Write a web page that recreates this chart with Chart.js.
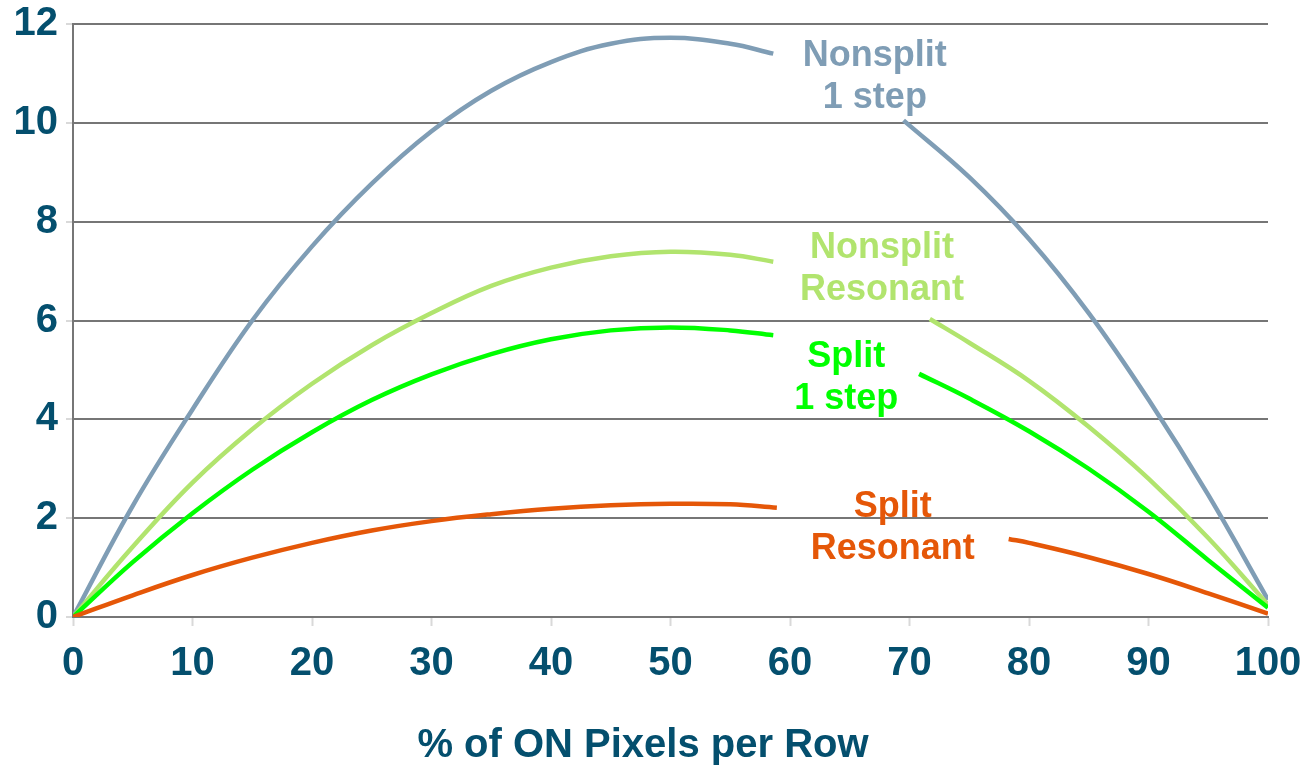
<!DOCTYPE html>
<html>
<head>
<meta charset="utf-8">
<script src="https://cdn.jsdelivr.net/npm/chart.js@4.4.1/dist/chart.umd.min.js"></script>
<style>
  html, body { margin: 0; padding: 0; background: #ffffff; }
  #wrap { width: 1310px; height: 766px; position: relative; }
</style>
</head>
<body>
<div id="wrap"><canvas id="c" width="1310" height="766"></canvas></div>
<script>
// ---- Data ----
const xTickValues = [0, 10, 20, 30, 40, 50, 60, 70, 80, 90, 100];
const yTickValues = [0, 2, 4, 6, 8, 10, 12];
const xAxisTitle = "% of ON Pixels per Row";

const nonsplit1StepX = [0, 5, 10, 15, 20, 25, 30, 35, 40, 45, 50, 55, 58.6, 64, 69.5, 75, 80, 85, 90, 95, 100];
const nonsplit1StepY = [0, 2.25, 4.2, 6.0, 7.5, 8.77, 9.83, 10.65, 11.23, 11.6, 11.72, 11.6, 11.4, null, 10.05, 8.9, 7.65, 6.15, 4.4, 2.47, 0.35];

const nonsplitResX = [0, 5, 10, 15, 20, 25, 30, 35, 40, 45, 50, 55, 58.6, 65, 71.7, 75, 80, 85, 90, 95, 100];
const nonsplitResY = [0, 1.42, 2.72, 3.8, 4.72, 5.5, 6.15, 6.7, 7.07, 7.3, 7.39, 7.33, 7.19, null, 6.03, 5.55, 4.78, 3.85, 2.8, 1.6, 0.25];

const split1StepX = [0, 5, 10, 15, 20, 25, 30, 35, 40, 45, 50, 55, 58.6, 65, 70.8, 75, 80, 85, 90, 95, 100];
const split1StepY = [0, 1.11, 2.1, 2.98, 3.74, 4.39, 4.91, 5.32, 5.62, 5.8, 5.86, 5.8, 5.7, null, 4.92, 4.42, 3.76, 3.0, 2.13, 1.15, 0.19];

const splitResX = [0, 5, 10, 15, 20, 25, 30, 35, 40, 45, 50, 55, 58.9, 68, 78.3, 80, 85, 90, 95, 100];
const splitResY = [0, 0.44, 0.85, 1.2, 1.5, 1.75, 1.94, 2.08, 2.19, 2.26, 2.29, 2.28, 2.21, null, 1.58, 1.5, 1.21, 0.87, 0.48, 0.07];

const seriesNames = [["Nonsplit", "1 step"], ["Nonsplit", "Resonant"], ["Split", "1 step"], ["Split", "Resonant"]];

// ---- Styles ----
const COLORS = ["#7f9db5", "#b1e46e", "#00ff00", "#e55708"];
const TEXT_DARK = "#044f6e";
const GRID = "#767676";
const TICKMARK = "#d9d9d9";
const FONT = "'Liberation Sans', Arial, sans-serif";

// label anchor (data units: x center, y of first baseline)
const labelAnchors = [
  { x: 67.1, y: 11.15 },
  { x: 67.7, y: 7.27 },
  { x: 64.7, y: 5.05 },
  { x: 68.6, y: 2.03 }
];

function zip(xs, ys) { return xs.map((x, i) => ({ x: x, y: ys[i] })); }

const seriesData = [
  zip(nonsplit1StepX, nonsplit1StepY),
  zip(nonsplitResX, nonsplitResY),
  zip(split1StepX, split1StepY),
  zip(splitResX, splitResY)
];

const datasets = seriesData.map((d, i) => ({
  label: seriesNames[i].join(" "),
  data: d,
  borderColor: COLORS[i],
  backgroundColor: COLORS[i],
  borderWidth: 4.5,
  pointRadius: 0,
  pointHoverRadius: 0,
  fill: false,
  spanGaps: false,
  tension: 0.4,
  borderCapStyle: "butt",
  order: 3 - i
}));

const labelPlugin = {
  id: "seriesLabels",
  afterDatasetsDraw(chart) {
    const ctx = chart.ctx;
    const xs = chart.scales.x, ys = chart.scales.y;
    ctx.save();
    ctx.font = "bold 36px " + FONT;
    ctx.textAlign = "center";
    ctx.textBaseline = "alphabetic";
    labelAnchors.forEach((a, i) => {
      const px = xs.getPixelForValue(a.x);
      const py = ys.getPixelForValue(a.y);
      ctx.fillStyle = COLORS[i];
      seriesNames[i].forEach((line, j) => {
        ctx.fillText(line, px, py + j * 42);
      });
    });
    ctx.restore();
  },
  afterDraw(chart) {
    const ctx = chart.ctx;
    ctx.save();
    ctx.font = "bold 40px " + FONT;
    ctx.fillStyle = TEXT_DARK;
    ctx.textAlign = "center";
    ctx.textBaseline = "alphabetic";
    ctx.fillText(xAxisTitle, 643, 757);
    ctx.restore();
  }
};

new Chart(document.getElementById("c"), {
  type: "line",
  data: { datasets: datasets },
  options: {
    responsive: false,
    animation: false,
    events: [],
    layout: { padding: { top: 24, right: 42, bottom: 0, left: 0 } },
    plugins: { legend: { display: false }, tooltip: { enabled: false }, title: { display: false } },
    scales: {
      x: {
        type: "linear",
        min: 0, max: 100,
        afterBuildTicks(scale) { scale.ticks = xTickValues.map(v => ({ value: v })); },
        afterFit(scale) { scale.height = 149; scale.paddingRight = 0; scale.paddingLeft = 0; },
        grid: { display: true, drawOnChartArea: false, drawTicks: true, tickLength: 9, tickColor: TICKMARK, tickWidth: 2 },
        border: { display: true, color: GRID, width: 2 },
        ticks: {
          color: TEXT_DARK,
          font: { family: FONT, size: 40, weight: "bold", lineHeight: 1 },
          padding: 18,
          maxRotation: 0,
          autoSkip: false
        }
      },
      y: {
        type: "linear",
        min: 0, max: 12,
        afterBuildTicks(scale) { scale.ticks = yTickValues.map(v => ({ value: v })); },
        afterFit(scale) { scale.width = 73; scale.paddingTop = 0; scale.paddingBottom = 0; },
        grid: { display: true, color: GRID, lineWidth: 2, drawTicks: true, tickLength: 7, tickColor: TICKMARK, tickWidth: 2 },
        border: { display: true, color: GRID, width: 2 },
        ticks: {
          color: TEXT_DARK,
          font: { family: FONT, size: 40, weight: "bold", lineHeight: 1 },
          padding: 8,
          autoSkip: false
        }
      }
    }
  },
  plugins: [labelPlugin]
});
</script>
</body>
</html>
